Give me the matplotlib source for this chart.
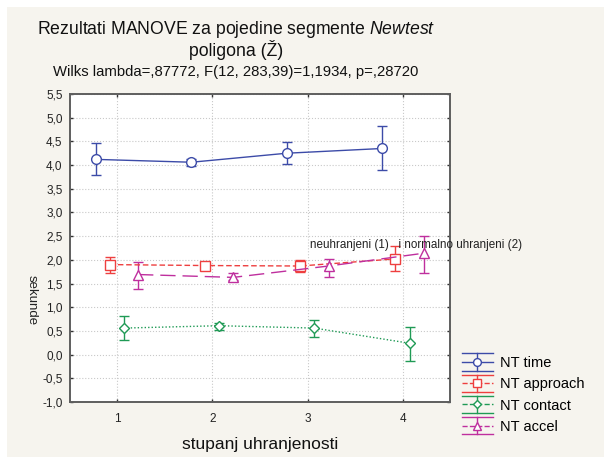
# MANOVE plot: mean +- error for each Newtest segment by nutrition level

import matplotlib
matplotlib.use("Agg")
import matplotlib.pyplot as plt
from matplotlib.lines import Line2D
from matplotlib.patches import Rectangle
from matplotlib.legend_handler import HandlerBase

plt.rcParams["font.family"] = ["Liberation Sans", "DejaVu Sans"]
plt.rcParams["mathtext.fontset"] = "custom"
plt.rcParams["mathtext.rm"] = "Liberation Sans"
plt.rcParams["mathtext.it"] = "Liberation Sans:italic"

levels = [1, 2, 3, 4]
series_names = ["NT time", "NT approach", "NT contact", "NT accel"]

time_mean = [4.12, 4.06, 4.25, 4.35]
time_lo = [3.80, 3.97, 4.02, 3.90]
time_hi = [4.46, 4.13, 4.48, 4.82]

approach_mean = [1.90, 1.88, 1.87, 2.02]
approach_lo = [1.72, 1.86, 1.75, 1.76]
approach_hi = [2.07, 1.90, 2.00, 2.29]

contact_mean = [0.56, 0.61, 0.56, 0.24]
contact_lo = [0.31, 0.53, 0.37, -0.14]
contact_hi = [0.82, 0.67, 0.73, 0.58]

accel_mean = [1.69, 1.63, 1.87, 2.14]
accel_lo = [1.39, 1.57, 1.64, 1.72]
accel_hi = [1.95, 1.72, 2.02, 2.51]

ytick_vals = [-1.0, -0.5, 0.0, 0.5, 1.0, 1.5, 2.0, 2.5, 3.0, 3.5, 4.0, 4.5, 5.0, 5.5]

beige = "#F6F4EE"
styles = [
    dict(color="#3C4BA8", ls="-", marker="o", ms=7.0, offset=-0.22),
    dict(color="#EE3F3F", ls=(0, (4, 2)), marker="s", ms=6.5, offset=-0.08),
    dict(color="#1F9A55", ls=(0, (1, 1.5)), marker="D", ms=5.5, offset=0.07),
    dict(color="#BF2F9E", ls=(0, (11, 5)), marker="^", ms=7.0, offset=0.22),
]
data = [
    (time_mean, time_lo, time_hi),
    (approach_mean, approach_lo, approach_hi),
    (contact_mean, contact_lo, contact_hi),
    (accel_mean, accel_lo, accel_hi),
]

fig = plt.figure(figsize=(6.04, 4.57), dpi=100, facecolor="white")
fig.patches.append(Rectangle((7 / 604, 0), 1, 1 - 7 / 457, transform=fig.transFigure,
                             facecolor=beige, edgecolor="none", zorder=-10))

ax = fig.add_axes([69.5 / 604, 55 / 457, 381 / 604, 308 / 457])
ax.set_facecolor("white")

proxies = []
for (mean, lo, hi), st in zip(data, styles):
    xs = [x + st["offset"] for x in levels]
    err = [[m - l for m, l in zip(mean, lo)], [h - m for m, h in zip(mean, hi)]]
    ax.errorbar(xs, mean, yerr=err, color=st["color"], ls=st["ls"], lw=1.0,
                marker=st["marker"], ms=st["ms"], mfc="white", mec=st["color"], mew=1.0,
                elinewidth=1.0, capsize=3.5, capthick=1.0, zorder=3)
    proxies.append(Line2D([], [], color=st["color"], ls=st["ls"], marker=st["marker"],
                          ms=st["ms"] * 0.8))

ax.set_xlim(0.5, 4.5)
ax.set_ylim(-1.0, 5.5)
ax.set_xticks(levels)
ax.set_xticklabels([str(v) for v in levels])
ax.set_yticks(ytick_vals)
ax.set_yticklabels(["{:.1f}".format(v).replace(".", ",") for v in ytick_vals])
ax.grid(True, color="#C9C9C9", ls=":", lw=0.8)
ax.set_axisbelow(True)
ax.tick_params(direction="in", length=2, width=1, top=True, right=True,
               labelsize=8.5, colors="#333333", labelcolor="#222222")
ax.tick_params(axis="x", pad=8)
ax.tick_params(axis="y", pad=5)
for sp in ax.spines.values():
    sp.set_color("#5E5E5E")
    sp.set_linewidth(1.4)

ax.text(3.02, 2.31, "neuhranjeni (1)   i normalno uhranjeni (2)", fontsize=8.4,
        color="#222222", va="center", ha="left", clip_on=False, zorder=5)

fig.text(236 / 604, 1 - 30 / 457, "Rezultati MANOVE za pojedine segmente $\\it{Newtest}$",
         ha="center", va="center", fontsize=12.7, color="#111111")
fig.text(236 / 604, 1 - 50.5 / 457, "poligona (Ž)", ha="center", va="center",
         fontsize=12.7, color="#111111")
fig.text(236 / 604, 1 - 72 / 457, "Wilks lambda=,87772, F(12, 283,39)=1,1934, p=,28720",
         ha="center", va="center", fontsize=10.7, color="#111111")
fig.text(32 / 604, 1 - 300 / 457, "sekunde", rotation=270, ha="center", va="center",
         fontsize=9.5, color="#222222")
fig.text(260 / 604, 1 - 444 / 457, "stupanj uhranjenosti", ha="center", va="center",
         fontsize=12.5, color="#111111")


class ErrHandler(HandlerBase):
    def create_artists(self, legend, orig_handle, xdescent, ydescent, width, height,
                       fontsize, trans):
        c = orig_handle.get_color()
        x0, x1 = -xdescent, -xdescent + width
        xm = (x0 + x1) / 2
        ym = -ydescent + height / 2
        d = 6.2
        arts = [
            Line2D([x0, x1], [ym + d, ym + d], color=c, lw=1),
            Line2D([x0, x1], [ym - d, ym - d], color=c, lw=1),
            Line2D([xm, xm], [ym - d, ym + d], color=c, lw=1),
            Line2D([x0, x1], [ym, ym], color=c, lw=1, ls=orig_handle.get_linestyle()),
            Line2D([xm], [ym], color=c, marker=orig_handle.get_marker(),
                   ms=orig_handle.get_markersize(), mfc="white", mec=c, mew=1),
        ]
        for a in arts:
            a.set_transform(trans)
        return arts


fig.legend(proxies, series_names, loc="upper left", bbox_to_anchor=(462 / 604, 1 - 356 / 457),
           frameon=False, fontsize=10.5, handlelength=2.1, handletextpad=0.5,
           labelspacing=0.5, borderaxespad=0, borderpad=0,
           handler_map={Line2D: ErrHandler()})

fig.savefig("out.png", dpi=100, facecolor=fig.get_facecolor())
